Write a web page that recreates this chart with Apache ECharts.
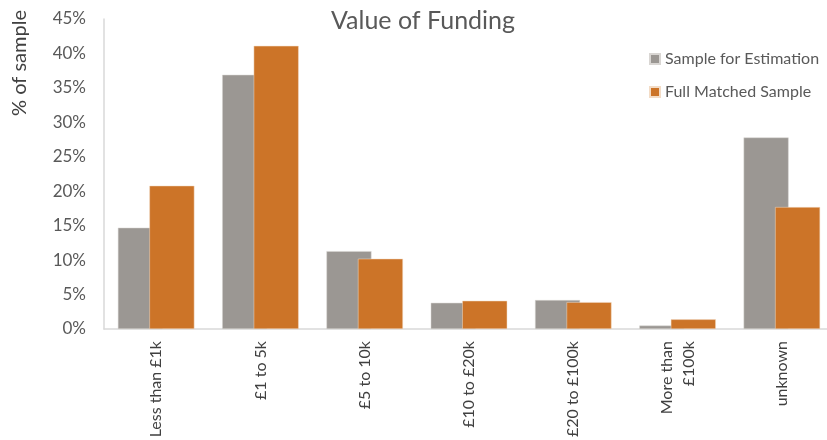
<!DOCTYPE html>
<html>
<head>
<meta charset="utf-8">
<script src="https://cdn.jsdelivr.net/npm/echarts@6/dist/echarts.min.js"></script>
<style>
html, body { margin: 0; padding: 0; background: #fff; }
#chart { width: 827px; height: 440px; }
</style>
</head>
<body>
<div id="chart"></div>
<script>
// Data
var categories = ['Less than £1k', '£1 to 5k', '£5 to 10k', '£10 to £20k', '£20 to £100k', 'More than\n£100k', 'unknown'];
var estimation = [14.7, 36.9, 11.3, 3.8, 4.2, 0.5, 27.8];
var fullMatched = [20.8, 41.1, 10.2, 4.1, 3.9, 1.4, 17.7];
var yTicks = { min: 0, max: 45, interval: 5 };

var font = 'Lato, "Open Sans", sans-serif';
var chart = echarts.init(document.getElementById('chart'));

chart.setOption({
    animation: false,
    textStyle: { fontFamily: font },
    title: {
        text: 'Value of Funding',
        left: 326,
        top: 3,
        textStyle: { fontSize: 25, fontWeight: 'normal', color: '#595959', fontFamily: font }
    },
    legend: {
        orient: 'vertical',
        left: 644,
        top: 46,
        itemWidth: 10,
        itemHeight: 10,
        itemGap: 17,
        icon: 'rect',
        textStyle: { fontSize: 16, color: '#595959', fontFamily: font },
        data: ['Sample for Estimation', 'Full Matched Sample']
    },
    // the plot area runs a little past the right edge of the picture
    grid: { left: 104, width: 730, top: 19, bottom: 111, containLabel: false, outerBoundsMode: 'none' },
    xAxis: {
        type: 'category',
        data: categories,
        axisLine: { lineStyle: { color: '#d9d9d9', width: 1.5 } },
        axisTick: { show: false },
        axisLabel: {
            rotate: 90,
            interval: 0,
            margin: 12,
            fontSize: 16,
            color: '#404040',
            fontFamily: font,
            lineHeight: 22
        }
    },
    yAxis: {
        type: 'value',
        min: yTicks.min,
        max: yTicks.max,
        interval: yTicks.interval,
        axisLine: { show: true, lineStyle: { color: '#d9d9d9', width: 1.5 } },
        axisTick: { show: false },
        splitLine: { show: false },
        axisLabel: {
            formatter: '{value}%',
            margin: 18,
            fontSize: 17,
            color: '#595959',
            fontFamily: font
        }
    },
    graphic: [{
        type: 'text',
        left: 10,
        top: 10,
        rotation: Math.PI / 2,
        style: {
            text: '% of sample',
            fontSize: 20,
            fill: '#404040',
            fontFamily: font
        }
    }],
    series: [{
        name: 'Sample for Estimation',
        type: 'bar',
        data: estimation,
        barWidth: 45,
        barGap: '-30%',
        itemStyle: { color: '#9b9793', borderColor: '#d9d6d3', borderWidth: 0.5 }
    }, {
        name: 'Full Matched Sample',
        type: 'bar',
        data: fullMatched,
        barWidth: 45,
        itemStyle: { color: '#cc7428', borderColor: '#f3dcc6', borderWidth: 0.5 }
    }]
});
</script>
</body>
</html>
